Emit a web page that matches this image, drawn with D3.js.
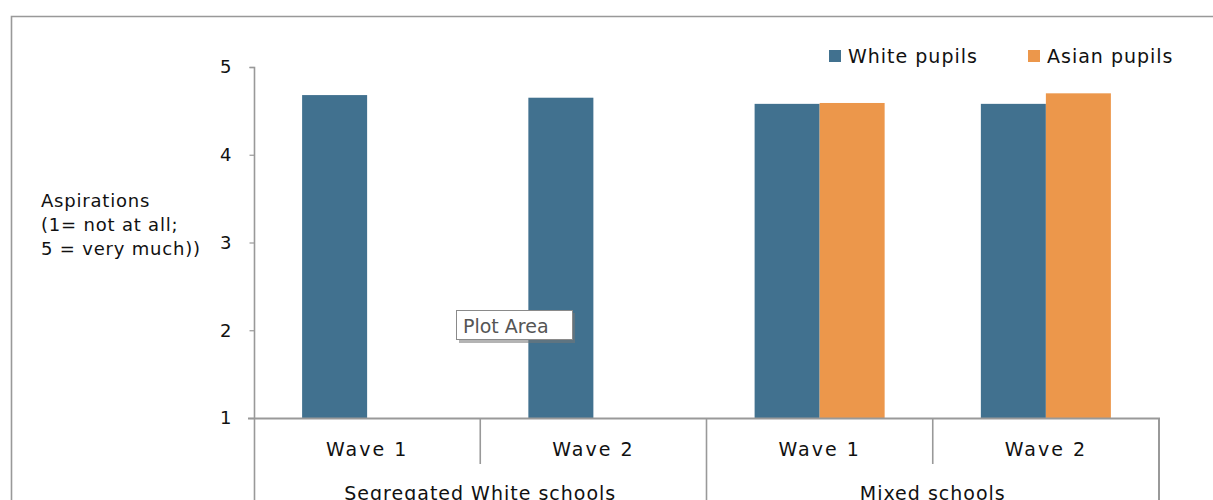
<!DOCTYPE html>
<html>
<head>
<meta charset="utf-8">
<script src="https://cdn.jsdelivr.net/npm/d3@7"></script>
<style>
  html, body { margin: 0; padding: 0; background: #fff; overflow: hidden; }
  svg { display: block; font-family: "DejaVu Sans", sans-serif; }
</style>
</head>
<body>
<svg id="chart" width="1213" height="500"></svg>
<script>
// ---- data ----
const groups = ["Segregated White schools", "Mixed schools"];
const waves = ["Wave 1", "Wave 2"];
const categories = ["Segregated White schools|Wave 1", "Segregated White schools|Wave 2",
                    "Mixed schools|Wave 1", "Mixed schools|Wave 2"];
const seriesNames = ["White pupils", "Asian pupils"];
const whitePupils = [4.68, 4.65, 4.58, 4.58];
const asianPupils = [null, null, 4.59, 4.70];
const yTicks = [1, 2, 3, 4, 5];
const yTitle = ["Aspirations", "(1= not at all;", "5 = very much))"];
const colors = ["#41718F", "#EC974B"];

// ---- layout ----
const svg = d3.select("#chart");
const plot = { left: 254, right: 1159, top: 67, bottom: 418 };

// chart area border
svg.append("path")
  .attr("d", `M11.5,500 L11.5,16.5 L1213,16.5`)
  .attr("fill", "none").attr("stroke", "#999").attr("stroke-width", 1.6);

const x0 = d3.scaleBand().domain(categories).range([plot.left, plot.right]).paddingInner(0).paddingOuter(0);
const x1 = d3.scaleBand().domain(seriesNames).range([0, x0.bandwidth()]).paddingInner(0).paddingOuter(0.74);
const y = d3.scaleLinear().domain([1, 5]).range([plot.bottom, plot.top]);

// bars
const rows = categories.map((c, i) => ({ cat: c, vals: [whitePupils[i], asianPupils[i]] }));
const g = svg.append("g");
rows.forEach(r => {
  r.vals.forEach((v, si) => {
    if (v == null) return;
    g.append("rect")
      .attr("x", x0(r.cat) + x1(seriesNames[si]))
      .attr("y", y(v))
      .attr("width", x1.bandwidth())
      .attr("height", y(1) - y(v))
      .attr("fill", colors[si]);
  });
});

// y axis
const yAxis = d3.axisLeft(y).tickValues(yTicks).tickFormat(d3.format("d")).tickSize(5).tickPadding(18);
const ya = svg.append("g").attr("transform", `translate(${plot.left + 0.5},0)`).call(yAxis);
ya.select(".domain").attr("stroke", "#999").attr("stroke-width", 1.6).attr("d", `M-5,${plot.top + 0.5}H0V500`);
ya.selectAll(".tick line").attr("stroke", "#999").attr("stroke-width", 1.2);
ya.selectAll(".tick text").attr("fill", "#111").style("font-size", "18px").style("font-family", "'DejaVu Sans', sans-serif");

// x axis baseline
svg.append("line").attr("x1", plot.left - 6).attr("x2", plot.right + 1)
  .attr("y1", plot.bottom + 0.5).attr("y2", plot.bottom + 0.5)
  .attr("stroke", "#999").attr("stroke-width", 2);

// category separators
categories.forEach((c, i) => {
  if (i === 0) return;
  const xx = x0(c);
  const isGroup = c.split("|")[0] !== categories[i - 1].split("|")[0];
  svg.append("line").attr("x1", xx).attr("x2", xx)
    .attr("y1", plot.bottom).attr("y2", isGroup ? 500 : 464)
    .attr("stroke", "#999").attr("stroke-width", 1.6);
});
svg.append("line").attr("x1", plot.right).attr("x2", plot.right)
  .attr("y1", plot.bottom).attr("y2", 500)
  .attr("stroke", "#999").attr("stroke-width", 2);

// wave labels
categories.forEach(c => {
  svg.append("text").attr("x", x0(c) + x0.bandwidth() / 2).attr("y", 456)
    .attr("text-anchor", "middle").style("font-size", "19px").attr("fill", "#111")
    .style("letter-spacing", "2px")
    .text(c.split("|")[1]);
});
// group labels
groups.forEach(gname => {
  const cats = categories.filter(c => c.startsWith(gname + "|"));
  const xs = x0(cats[0]), xe = x0(cats[cats.length - 1]) + x0.bandwidth();
  svg.append("text").attr("x", (xs + xe) / 2).attr("y", 500)
    .attr("text-anchor", "middle").style("font-size", "19px").attr("fill", "#111")
    .style("letter-spacing", "1px")
    .text(gname);
});

// y title
const yt = svg.append("text").attr("x", 41).attr("y", 207).style("font-size", "18px")
  .style("letter-spacing", "0.8px").attr("fill", "#111");
yTitle.forEach((t, i) => yt.append("tspan").attr("x", 41).attr("dy", i === 0 ? 0 : 24).text(t));

// legend
const legX = [829, 1028];
seriesNames.forEach((s, i) => {
  svg.append("rect").attr("x", legX[i]).attr("y", 50).attr("width", 12).attr("height", 12).attr("fill", colors[i]);
  svg.append("text").attr("x", legX[i] + 19).attr("y", 63).style("font-size", "19px")
    .style("letter-spacing", "1px").attr("fill", "#111").text(s);
});

// "Plot Area" tooltip
const tip = svg.append("g");
tip.append("rect").attr("x", 459).attr("y", 313).attr("width", 116).attr("height", 30).attr("fill", "#777").attr("opacity", 0.55);
tip.append("rect").attr("x", 456.5).attr("y", 310.5).attr("width", 116).attr("height", 29).attr("fill", "#fff").attr("stroke", "#8a8a8a");
tip.append("text").attr("x", 463).attr("y", 333).style("font-family", "'DejaVu Sans', sans-serif")
  .style("font-size", "19px").attr("fill", "#555").text("Plot Area");
</script>
</body>
</html>
